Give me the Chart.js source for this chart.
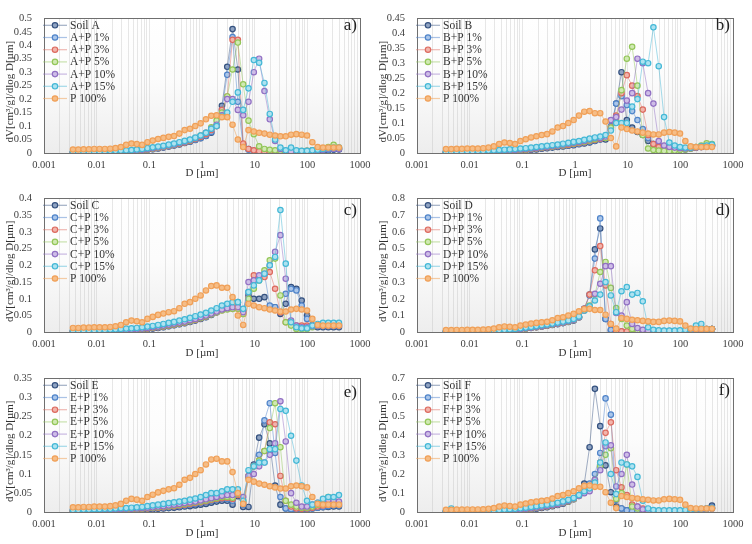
<!DOCTYPE html>
<html><head><meta charset="utf-8">
<script src="https://cdn.jsdelivr.net/npm/chart.js@4.4.1/dist/chart.umd.min.js"></script>
<style>
html,body{margin:0;padding:0;background:#fff;}
#wrap{position:relative;width:752px;height:544px;overflow:hidden;background:#fff;}
canvas{position:absolute;}
</style></head><body><div id="wrap"></div>
<script>
// pore diameter D [µm]
const diameters = [0.00355,0.00448,0.00565,0.00713,0.00899,0.01135,0.01432,0.01807,0.0228,0.02877,
 0.03631,0.04581,0.0578,0.07295,0.09204,0.1161,0.1466,0.1849,0.2333,0.2944,
 0.3715,0.4688,0.5916,0.7464,0.9419,1.189,1.5,1.892,2.388,3.013,
 3.802,4.797,6.053,7.638,9.638,12.16,15.35,19.36,24.43,30.83,
 38.9,49.09,61.94,78.16,98.63,124.5,157,198.2,250,315.5,398.1];

// P 100% (same material in all panels)
const p100 = [0.013,0.013,0.014,0.014,0.015,0.015,0.015,0.016,0.018,0.022,
 0.03,0.035,0.033,0.03,0.04,0.046,0.052,0.056,0.06,0.063,
 0.072,0.085,0.09,0.1,0.11,0.125,0.138,0.14,0.133,0.133,
 0.105,0.05,0.022,0.085,0.08,0.075,0.072,0.068,0.065,0.062,
 0.062,0.068,0.07,0.068,0.065,0.04,0.022,0.02,0.02,0.02,0.02];

// Panel a
const soilA = [0.001,0.001,0.001,0.002,0.002,0.002,0.003,0.003,0.003,0.004, 0.005,0.006,0.007,0.008,0.012,0.014,0.017,0.02,0.024,0.028, 0.032,0.037,0.042,0.048,0.055,0.063,0.075,0.1,0.175,0.32, 0.46,0.31,0.03,0.015,0.008,0.005,0.004,0.003,0.003,0.003, 0.003,0.003,0.003,0.004,0.004,0.005,0.006,0.008,0.01,0.012,0.013];
const a1 = [0.002,0.002,0.002,0.002,0.003,0.003,0.003,0.004,0.004,0.005, 0.006,0.007,0.008,0.009,0.012,0.015,0.018,0.021,0.025,0.029, 0.033,0.038,0.043,0.049,0.056,0.064,0.078,0.1,0.16,0.29, 0.43,0.19,0.025,0.012,0.007,0.005,0.004,0.004,0.003,0.003, 0.003,0.003,0.004,0.004,0.005,0.006,0.008,0.01,0.012,0.014,0.015];
const a3 = [0.002,0.002,0.002,0.003,0.003,0.003,0.004,0.004,0.005,0.005, 0.006,0.007,0.008,0.01,0.013,0.016,0.019,0.022,0.026,0.03, 0.034,0.039,0.045,0.052,0.06,0.07,0.085,0.1,0.16,0.21, 0.42,0.42,0.035,0.015,0.01,0.007,0.005,0.004,0.004,0.004, 0.004,0.005,0.005,0.006,0.008,0.01,0.012,0.015,0.018,0.02,0.018];
const a5 = [0.002,0.002,0.003,0.003,0.003,0.004,0.004,0.005,0.005,0.006, 0.007,0.008,0.009,0.011,0.014,0.017,0.02,0.023,0.027,0.031, 0.036,0.041,0.047,0.055,0.065,0.075,0.095,0.12,0.15,0.21, 0.31,0.41,0.255,0.12,0.07,0.025,0.015,0.012,0.01,0.008, 0.007,0.006,0.006,0.007,0.008,0.01,0.013,0.017,0.022,0.03,0.02];
const a10 = [0.002,0.003,0.003,0.003,0.004,0.004,0.005,0.005,0.006,0.007, 0.008,0.009,0.01,0.012,0.015,0.018,0.021,0.024,0.028,0.032, 0.037,0.042,0.048,0.055,0.064,0.075,0.09,0.105,0.14,0.2, 0.2,0.16,0.14,0.19,0.3,0.35,0.23,0.125,0.045,0.015, 0.008,0.006,0.005,0.005,0.006,0.008,0.01,0.012,0.015,0.016,0.015];
const a15 = [0.004,0.004,0.005,0.005,0.006,0.006,0.007,0.008,0.008,0.009, 0.01,0.011,0.013,0.015,0.018,0.021,0.024,0.027,0.031,0.035, 0.04,0.045,0.05,0.057,0.065,0.075,0.09,0.1,0.135,0.15, 0.19,0.225,0.16,0.24,0.345,0.335,0.26,0.145,0.05,0.02, 0.01,0.02,0.01,0.008,0.008,0.01,0.012,0.015,0.018,0.02,0.02];

// Panel b
const soilB = [0.001,0.001,0.001,0.002,0.002,0.002,0.002,0.003,0.003,0.003, 0.004,0.004,0.005,0.006,0.008,0.009,0.011,0.012,0.014,0.016, 0.018,0.02,0.022,0.024,0.026,0.029,0.032,0.035,0.04,0.045, 0.045,0.08,0.165,0.27,0.11,0.085,0.07,0.06,0.04,0.03, 0.025,0.02,0.018,0.015,0.015,0.012,0.015,0.018,0.02,0.022,0.025];
const b1 = [0.002,0.002,0.002,0.002,0.003,0.003,0.003,0.004,0.004,0.005, 0.005,0.006,0.007,0.008,0.009,0.011,0.012,0.014,0.016,0.018, 0.02,0.022,0.024,0.026,0.028,0.031,0.034,0.038,0.042,0.046, 0.05,0.09,0.165,0.19,0.16,0.14,0.11,0.08,0.05,0.03, 0.025,0.02,0.018,0.016,0.015,0.014,0.016,0.018,0.02,0.022,0.024];
const b3 = [0.002,0.002,0.002,0.003,0.003,0.003,0.004,0.004,0.005,0.005, 0.006,0.006,0.007,0.008,0.01,0.011,0.013,0.015,0.017,0.019, 0.021,0.023,0.025,0.027,0.03,0.033,0.036,0.04,0.044,0.048, 0.05,0.085,0.125,0.2,0.26,0.225,0.19,0.145,0.06,0.03, 0.02,0.018,0.016,0.015,0.014,0.014,0.016,0.018,0.02,0.024,0.025];
const b5 = [0.002,0.002,0.003,0.003,0.003,0.004,0.004,0.005,0.005,0.006, 0.006,0.007,0.008,0.009,0.011,0.012,0.014,0.016,0.018,0.02, 0.022,0.024,0.026,0.029,0.032,0.035,0.038,0.042,0.046,0.05, 0.05,0.085,0.105,0.21,0.315,0.355,0.225,0.06,0.015,0.01, 0.008,0.007,0.007,0.008,0.01,0.012,0.015,0.02,0.025,0.032,0.03];
const b10 = [0.002,0.003,0.003,0.003,0.004,0.004,0.005,0.005,0.006,0.006, 0.007,0.008,0.009,0.01,0.012,0.013,0.015,0.017,0.019,0.021, 0.023,0.025,0.028,0.031,0.034,0.037,0.04,0.045,0.05,0.05, 0.055,0.11,0.12,0.145,0.175,0.2,0.315,0.3,0.2,0.165, 0.04,0.025,0.02,0.018,0.016,0.015,0.017,0.019,0.021,0.023,0.025];
const b15 = [0.004,0.004,0.005,0.005,0.006,0.006,0.007,0.007,0.008,0.009, 0.01,0.011,0.012,0.013,0.015,0.016,0.018,0.02,0.022,0.024, 0.026,0.028,0.031,0.034,0.037,0.04,0.044,0.048,0.052,0.055, 0.06,0.075,0.1,0.1,0.1,0.155,0.18,0.305,0.3,0.42, 0.29,0.12,0.035,0.025,0.02,0.018,0.018,0.02,0.022,0.025,0.028];

// Panel c
const soilC = [0.001,0.001,0.002,0.002,0.002,0.003,0.003,0.003,0.004,0.004, 0.005,0.006,0.006,0.007,0.009,0.011,0.013,0.015,0.018,0.021, 0.024,0.027,0.031,0.035,0.04,0.045,0.052,0.06,0.068,0.075, 0.085,0.088,0.062,0.11,0.1,0.1,0.105,0.075,0.075,0.055, 0.085,0.135,0.13,0.095,0.05,0.02,0.015,0.015,0.015,0.015,0.015];
const c1 = [0.002,0.002,0.002,0.002,0.003,0.003,0.004,0.004,0.004,0.005, 0.006,0.006,0.007,0.008,0.01,0.012,0.014,0.016,0.019,0.022, 0.025,0.028,0.032,0.036,0.041,0.046,0.053,0.06,0.068,0.078, 0.085,0.09,0.065,0.12,0.155,0.165,0.175,0.08,0.075,0.06, 0.115,0.13,0.125,0.08,0.04,0.02,0.018,0.018,0.018,0.018,0.018];
const c3 = [0.002,0.002,0.002,0.003,0.003,0.003,0.004,0.004,0.005,0.005, 0.006,0.007,0.008,0.009,0.011,0.013,0.015,0.017,0.02,0.023, 0.026,0.029,0.033,0.037,0.042,0.047,0.054,0.06,0.066,0.07, 0.07,0.07,0.055,0.1,0.17,0.165,0.165,0.18,0.13,0.06, 0.03,0.025,0.02,0.02,0.02,0.02,0.02,0.02,0.02,0.02,0.02];
const c5 = [0.002,0.002,0.003,0.003,0.003,0.004,0.004,0.005,0.005,0.006, 0.007,0.007,0.008,0.01,0.012,0.014,0.016,0.018,0.021,0.024, 0.027,0.03,0.034,0.038,0.043,0.048,0.054,0.06,0.065,0.068, 0.07,0.07,0.055,0.1,0.13,0.155,0.185,0.215,0.22,0.11, 0.03,0.02,0.01,0.01,0.01,0.015,0.02,0.025,0.025,0.025,0.025];
const c10 = [0.003,0.003,0.003,0.004,0.004,0.004,0.005,0.005,0.006,0.006, 0.007,0.008,0.009,0.011,0.013,0.015,0.017,0.02,0.023,0.026, 0.029,0.032,0.036,0.04,0.045,0.05,0.056,0.062,0.068,0.072, 0.075,0.075,0.06,0.15,0.155,0.17,0.175,0.2,0.24,0.29, 0.16,0.035,0.02,0.015,0.015,0.018,0.02,0.022,0.022,0.022,0.022];
const c15 = [0.005,0.005,0.005,0.006,0.006,0.007,0.007,0.008,0.009,0.01, 0.011,0.012,0.013,0.015,0.017,0.019,0.022,0.025,0.028,0.031, 0.035,0.039,0.043,0.048,0.053,0.058,0.065,0.072,0.08,0.085, 0.09,0.09,0.07,0.12,0.14,0.155,0.175,0.2,0.225,0.365, 0.205,0.03,0.015,0.012,0.012,0.02,0.025,0.028,0.028,0.028,0.028];

// Panel d
const soilD = [0.001,0.001,0.002,0.002,0.002,0.003,0.003,0.004,0.005,0.006, 0.007,0.009,0.011,0.014,0.018,0.022,0.026,0.03,0.034,0.039, 0.044,0.049,0.055,0.062,0.07,0.09,0.14,0.225,0.495,0.62, 0.08,0.01,0.004,0.003,0.003,0.003,0.003,0.003,0.003,0.003, 0.003,0.003,0.003,0.003,0.004,0.005,0.006,0.008,0.01,0.015,0.02];
const d1 = [0.002,0.002,0.002,0.002,0.003,0.003,0.004,0.004,0.005,0.006, 0.008,0.01,0.012,0.015,0.019,0.023,0.027,0.031,0.035,0.04, 0.045,0.05,0.056,0.063,0.072,0.09,0.14,0.22,0.44,0.68, 0.08,0.015,0.005,0.004,0.003,0.003,0.003,0.003,0.003,0.003, 0.003,0.003,0.003,0.004,0.004,0.005,0.007,0.009,0.012,0.016,0.02];
const d3 = [0.002,0.002,0.002,0.003,0.003,0.003,0.004,0.005,0.005,0.006, 0.008,0.01,0.012,0.015,0.019,0.023,0.027,0.031,0.036,0.041, 0.046,0.051,0.057,0.064,0.073,0.09,0.14,0.225,0.37,0.515, 0.28,0.05,0.01,0.006,0.005,0.004,0.004,0.004,0.004,0.004, 0.004,0.004,0.004,0.005,0.006,0.007,0.009,0.012,0.015,0.02,0.02];
const d5 = [0.002,0.002,0.003,0.003,0.003,0.004,0.004,0.005,0.006,0.007, 0.008,0.01,0.012,0.015,0.019,0.023,0.028,0.032,0.037,0.042, 0.047,0.052,0.058,0.065,0.074,0.09,0.13,0.16,0.225,0.36, 0.42,0.265,0.145,0.08,0.04,0.02,0.012,0.008,0.006,0.005, 0.005,0.005,0.005,0.006,0.007,0.008,0.01,0.013,0.016,0.02,0.02];
const d10 = [0.002,0.003,0.003,0.003,0.004,0.004,0.005,0.006,0.006,0.007, 0.009,0.011,0.013,0.016,0.02,0.024,0.028,0.033,0.038,0.043, 0.048,0.053,0.059,0.066,0.075,0.09,0.13,0.15,0.23,0.29, 0.395,0.395,0.115,0.1,0.18,0.05,0.025,0.015,0.01,0.008, 0.007,0.007,0.007,0.007,0.008,0.01,0.012,0.015,0.018,0.02,0.02];
const d15 = [0.005,0.005,0.006,0.006,0.007,0.007,0.008,0.009,0.01,0.011, 0.013,0.015,0.017,0.02,0.024,0.028,0.032,0.037,0.042,0.047, 0.052,0.058,0.064,0.071,0.08,0.095,0.13,0.155,0.19,0.225, 0.3,0.22,0.12,0.245,0.27,0.225,0.235,0.185,0.03,0.015, 0.012,0.01,0.01,0.01,0.012,0.015,0.02,0.04,0.05,0.02,0.02];

// Panel e
const soilE = [0.002,0.002,0.002,0.003,0.003,0.003,0.003,0.004,0.004,0.004, 0.005,0.005,0.006,0.006,0.007,0.008,0.009,0.01,0.011,0.012, 0.013,0.015,0.016,0.018,0.02,0.022,0.025,0.028,0.03,0.03, 0.02,0.042,0.014,0.014,0.125,0.195,0.23,0.18,0.07,0.02, 0.01,0.008,0.007,0.007,0.008,0.01,0.012,0.013,0.014,0.015,0.015];
const e1 = [0.003,0.003,0.003,0.004,0.004,0.004,0.005,0.005,0.005,0.006, 0.006,0.007,0.007,0.008,0.009,0.01,0.011,0.012,0.013,0.015, 0.016,0.018,0.02,0.022,0.024,0.027,0.03,0.033,0.035,0.035, 0.03,0.045,0.02,0.09,0.12,0.15,0.24,0.285,0.155,0.04, 0.01,0.008,0.007,0.007,0.008,0.01,0.012,0.014,0.016,0.018,0.018];
const e3 = [0.004,0.004,0.004,0.005,0.005,0.005,0.006,0.006,0.006,0.007, 0.007,0.008,0.008,0.009,0.01,0.011,0.012,0.013,0.015,0.016, 0.018,0.02,0.022,0.024,0.026,0.029,0.032,0.035,0.037,0.038, 0.035,0.045,0.025,0.095,0.12,0.135,0.16,0.235,0.23,0.095, 0.03,0.015,0.01,0.009,0.01,0.012,0.015,0.018,0.02,0.022,0.022];
const e5 = [0.004,0.004,0.005,0.005,0.005,0.006,0.006,0.006,0.007,0.007, 0.008,0.008,0.009,0.01,0.011,0.012,0.013,0.015,0.016,0.018, 0.02,0.022,0.024,0.026,0.028,0.031,0.034,0.037,0.04,0.04, 0.038,0.048,0.03,0.095,0.12,0.135,0.16,0.22,0.285,0.17, 0.03,0.02,0.015,0.012,0.012,0.015,0.02,0.025,0.04,0.03,0.025];
const e10 = [0.005,0.005,0.005,0.006,0.006,0.006,0.007,0.007,0.008,0.008, 0.009,0.009,0.01,0.011,0.012,0.013,0.015,0.016,0.018,0.02, 0.022,0.024,0.026,0.028,0.031,0.034,0.037,0.04,0.043,0.045, 0.045,0.05,0.04,0.095,0.1,0.12,0.13,0.15,0.18,0.29, 0.185,0.05,0.025,0.015,0.015,0.02,0.025,0.03,0.032,0.03,0.028];
const e15 = [0.006,0.006,0.007,0.007,0.008,0.008,0.009,0.009,0.01,0.011, 0.011,0.012,0.013,0.014,0.016,0.018,0.02,0.022,0.024,0.026, 0.028,0.03,0.033,0.036,0.04,0.045,0.05,0.05,0.055,0.06, 0.06,0.06,0.03,0.11,0.12,0.13,0.13,0.165,0.165,0.27, 0.265,0.2,0.135,0.07,0.03,0.02,0.025,0.035,0.04,0.04,0.045];

// Panel f
const soilF = [0.001,0.001,0.001,0.002,0.002,0.002,0.003,0.003,0.004,0.004, 0.005,0.006,0.007,0.008,0.01,0.013,0.016,0.019,0.023,0.027, 0.032,0.038,0.045,0.055,0.068,0.09,0.15,0.34,0.645,0.45, 0.245,0.105,0.03,0.02,0.01,0.006,0.004,0.003,0.003,0.003, 0.003,0.003,0.003,0.003,0.004,0.005,0.006,0.008,0.012,0.02,0.035];
const f1 = [0.002,0.002,0.002,0.002,0.003,0.003,0.004,0.004,0.005,0.005, 0.006,0.007,0.008,0.01,0.012,0.015,0.018,0.022,0.026,0.03, 0.035,0.041,0.048,0.058,0.07,0.09,0.12,0.15,0.2,0.31, 0.595,0.51,0.065,0.02,0.01,0.006,0.005,0.004,0.004,0.004, 0.004,0.004,0.004,0.004,0.005,0.006,0.008,0.01,0.013,0.018,0.025];
const f3 = [0.002,0.002,0.002,0.003,0.003,0.003,0.004,0.004,0.005,0.006, 0.007,0.008,0.009,0.011,0.013,0.016,0.019,0.023,0.027,0.031, 0.036,0.042,0.049,0.058,0.07,0.09,0.11,0.13,0.16,0.26, 0.415,0.47,0.22,0.13,0.09,0.04,0.03,0.02,0.01,0.008, 0.007,0.006,0.006,0.006,0.007,0.008,0.01,0.012,0.015,0.018,0.02];
const f5 = [0.002,0.002,0.003,0.003,0.003,0.004,0.004,0.005,0.005,0.006, 0.007,0.008,0.01,0.012,0.014,0.017,0.02,0.024,0.028,0.032, 0.037,0.043,0.05,0.058,0.07,0.085,0.105,0.12,0.17,0.24, 0.3,0.335,0.07,0.1,0.25,0.03,0.02,0.012,0.008,0.006, 0.006,0.006,0.006,0.006,0.007,0.008,0.01,0.012,0.015,0.018,0.02];
const f10 = [0.003,0.003,0.003,0.003,0.004,0.004,0.005,0.005,0.006,0.007, 0.008,0.009,0.011,0.013,0.015,0.018,0.021,0.025,0.029,0.033, 0.038,0.044,0.051,0.06,0.072,0.085,0.1,0.11,0.17,0.22, 0.345,0.35,0.135,0.2,0.3,0.145,0.03,0.015,0.01,0.008, 0.007,0.007,0.007,0.007,0.008,0.009,0.01,0.012,0.015,0.018,0.02];
const f15 = [0.005,0.02,0.006,0.006,0.007,0.007,0.008,0.009,0.01,0.011, 0.012,0.014,0.016,0.018,0.021,0.024,0.028,0.032,0.036,0.04, 0.045,0.05,0.057,0.065,0.075,0.09,0.11,0.125,0.155,0.26, 0.365,0.2,0.095,0.26,0.25,0.24,0.185,0.06,0.02,0.012, 0.01,0.01,0.01,0.01,0.01,0.012,0.014,0.016,0.018,0.02,0.022];

const yMaxes = [0.5, 0.45, 0.4, 0.8, 0.35, 0.7];
const ySteps = [0.05, 0.05, 0.05, 0.1, 0.05, 0.1];
const panelTags = ['a)', 'b)', 'c)', 'd)', 'e)', 'f)'];
const soilLetters = ['A', 'B', 'C', 'D', 'E', 'F'];
const mixLabels = ['1%', '3%', '5%', '10%', '15%'];
const xTickLabels = ['0.001', '0.01', '0.1', '1', '10', '100', '1000'];

const panelData = [
  [soilA, a1, a3, a5, a10, a15],
  [soilB, b1, b3, b5, b10, b15],
  [soilC, c1, c3, c5, c10, c15],
  [soilD, d1, d3, d5, d10, d15],
  [soilE, e1, e3, e5, e10, e15],
  [soilF, f1, f3, f5, f10, f15]
];

const styles = [
  {line:'rgba(70,95,140,0.5)',  border:'#34517f', fill:'#8fa3c2'},
  {line:'rgba(85,135,205,0.5)', border:'#5084c9', fill:'#aac6ea'},
  {line:'rgba(225,115,105,0.5)',border:'#dc6a5f', fill:'#f2b4ab'},
  {line:'rgba(150,200,95,0.5)', border:'#93c659', fill:'#d0e9b2'},
  {line:'rgba(150,115,200,0.5)',border:'#9170c3', fill:'#cebde7'},
  {line:'rgba(75,185,215,0.5)', border:'#44b8d6', fill:'#aee2f0'},
  {line:'rgba(240,165,95,0.55)',border:'#f0a058', fill:'#f6bd86'}
];

const layoutInfo = [
  {x:0,   y:0,   h:180, yW:44, rp:16, top:8,   xH:27,   tagDy:7},
  {x:376, y:0,   h:180, yW:41, rp:19, top:8,   xH:27,   tagDy:7},
  {x:0,   y:180, h:180, yW:44, rp:16, top:7.7, xH:27.7, tagDy:12},
  {x:376, y:180, h:180, yW:41, rp:19, top:7.7, xH:27.7, tagDy:12},
  {x:0,   y:360, h:184, yW:44, rp:16, top:7.7, xH:31.7, tagDy:14},
  {x:376, y:360, h:184, yW:41, rp:19, top:7.7, xH:31.7, tagDy:12}
];

const SERIF = '"Liberation Serif", "Times New Roman", serif';

const decorPlugin = {
  id: 'decor',
  beforeDraw(chart) {
    const ctx = chart.ctx, ca = chart.chartArea;
    ctx.save();
    ctx.fillStyle = '#fff';
    ctx.fillRect(0, 0, chart.width, chart.height);
    const g = ctx.createLinearGradient(0, ca.top, 0, ca.bottom);
    g.addColorStop(0, '#ffffff');
    g.addColorStop(0.45, '#fcfcfc');
    g.addColorStop(1, '#ededed');
    ctx.fillStyle = g;
    ctx.fillRect(ca.left, ca.top, ca.right - ca.left, ca.bottom - ca.top);
    ctx.restore();
  },
  afterDraw(chart) {
    const ctx = chart.ctx, ca = chart.chartArea, o = chart.options.plugins.decor;
    ctx.save();
    ctx.strokeStyle = '#6f6f6f';
    ctx.lineWidth = 1;
    ctx.strokeRect(Math.round(ca.left) + 0.5, Math.round(ca.top) + 0.5,
      Math.round(ca.right - ca.left), Math.round(ca.bottom - ca.top));
    ctx.font = '11.5px ' + SERIF;
    ctx.textBaseline = 'middle';
    ctx.textAlign = 'left';
    chart.data.datasets.forEach((ds, i) => {
      const st = styles[i];
      const y = ca.top + 7 + i * 12.2;
      ctx.strokeStyle = st.line;
      ctx.lineWidth = 1.2;
      ctx.beginPath();
      ctx.moveTo(ca.left - 1, y); ctx.lineTo(ca.left + 23, y); ctx.stroke();
      ctx.beginPath();
      ctx.arc(ca.left + 11, y, 2.7, 0, Math.PI * 2);
      ctx.fillStyle = st.fill; ctx.fill();
      ctx.lineWidth = 1.2; ctx.strokeStyle = st.border; ctx.stroke();
      ctx.fillStyle = '#333';
      ctx.fillText(ds.label, ca.left + 26, y + 0.5);
    });
    ctx.font = '17px ' + SERIF;
    ctx.textAlign = 'right';
    ctx.fillStyle = '#222';
    ctx.fillText(o.tag, ca.right - 3, ca.top + o.tagDy);
    ctx.font = '11px ' + SERIF;
    ctx.textAlign = 'center';
    ctx.fillStyle = '#333';
    ctx.fillText('D [µm]', (ca.left + ca.right) / 2, ca.bottom + 20.5);
    ctx.save();
    ctx.translate(ca.left - 34, (ca.top + ca.bottom) / 2 + 6);
    ctx.rotate(-Math.PI / 2);
    ctx.fillText('dV[cm³/g]/dlog D[µm]', 0, 0);
    ctx.restore();
    ctx.restore();
  }
};

const wrap = document.getElementById('wrap');
panelData.forEach((series, p) => {
  const L = layoutInfo[p];
  const cv = document.createElement('canvas');
  cv.width = 376; cv.height = L.h;
  cv.style.left = L.x + 'px'; cv.style.top = L.y + 'px';
  cv.style.width = '376px'; cv.style.height = L.h + 'px';
  wrap.appendChild(cv);
  const letter = soilLetters[p];
  const labels = ['Soil ' + letter].concat(mixLabels.map(m => letter + '+P ' + m)).concat(['P 100%']);
  const allSeries = series.concat([p100]);
  const datasets = allSeries.map((arr, i) => ({
    label: labels[i],
    data: diameters.map((d, k) => ({x: d, y: arr[k]})),
    borderColor: styles[i].line,
    borderWidth: 1,
    pointRadius: 2.7,
    pointBorderWidth: 1.2,
    pointBackgroundColor: styles[i].fill,
    pointBorderColor: styles[i].border,
    tension: 0,
    order: 6 - i
  }));
  const nY = Math.round(yMaxes[p] / ySteps[p]);
  new Chart(cv, {
    type: 'line',
    data: {datasets},
    plugins: [decorPlugin],
    options: {
      responsive: false,
      animation: false,
      devicePixelRatio: 1,
      events: [],
      layout: {padding: {left: 0, right: L.rp, top: L.top, bottom: 0}},
      plugins: {
        legend: {display: false},
        tooltip: {enabled: false},
        decor: {tag: panelTags[p], tagDy: L.tagDy}
      },
      scales: {
        x: {
          type: 'logarithmic',
          min: 0.001, max: 1000,
          afterBuildTicks(scale) {
            const t = [];
            for (let e = -3; e <= 2; e++) {
              for (let m = 1; m <= 9; m++) t.push({value: +(m * Math.pow(10, e)).toPrecision(3)});
            }
            t.push({value: 1000});
            scale.ticks = t;
          },
          afterFit(scale) { scale.height = L.xH; },
          grid: {color: 'rgba(185,185,185,0.35)', lineWidth: 1, drawTicks: false},
          border: {display: false},
          ticks: {
            autoSkip: false, maxRotation: 0, padding: 5.5,
            color: '#404040',
            font: {family: SERIF, size: 10.5},
            callback(v) {
              const lg = Math.log10(v);
              if (Math.abs(lg - Math.round(lg)) < 1e-6) return xTickLabels[Math.round(lg) + 3];
              return '';
            }
          }
        },
        y: {
          type: 'linear',
          min: 0, max: yMaxes[p],
          afterBuildTicks(scale) {
            const t = [];
            for (let i = 0; i <= nY; i++) t.push({value: +(i * ySteps[p]).toFixed(3)});
            scale.ticks = t;
          },
          afterFit(scale) { scale.width = L.yW; },
          grid: {display: false, drawTicks: false},
          border: {display: false},
          ticks: {
            autoSkip: false, padding: 12,
            color: '#404040',
            font: {family: SERIF, size: 10.5},
            callback(v) { return String(+(+v).toFixed(2)); }
          }
        }
      }
    }
  });
});
</script>
</body></html>
